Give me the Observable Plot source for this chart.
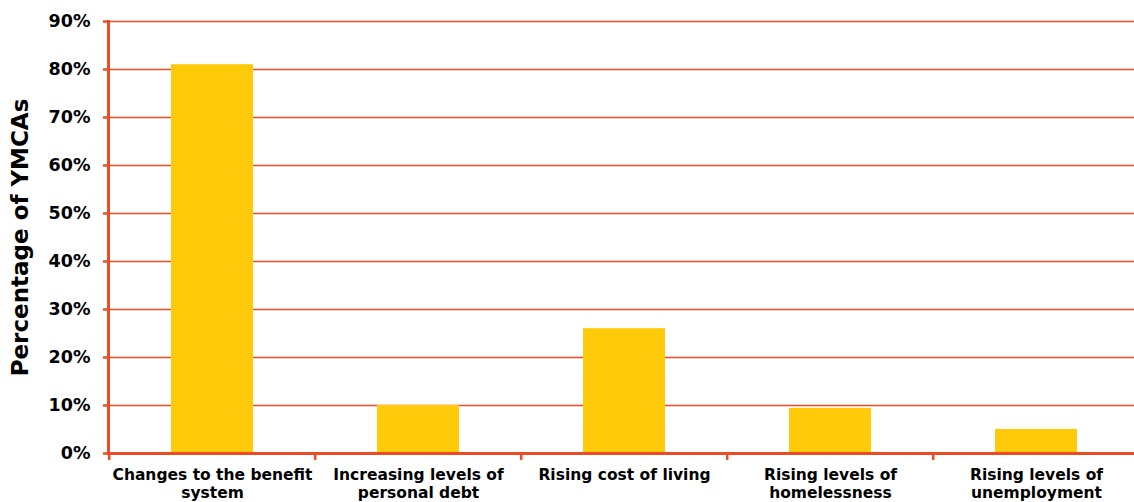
<!DOCTYPE html>
<html>
<head>
<meta charset="utf-8">
<script src="https://cdn.jsdelivr.net/npm/d3@7"></script>
<script src="https://cdn.jsdelivr.net/npm/@observablehq/plot@0.6"></script>
<style>
  html, body { margin: 0; padding: 0; background: #fff; overflow: hidden; }
  #chart svg { display: block; font-family: "DejaVu Sans", Verdana, sans-serif; }
</style>
</head>
<body>
<div id="chart"></div>
<script>
const categories = [
  "Changes to the benefit system",
  "Increasing levels of personal debt",
  "Rising cost of living",
  "Rising levels of homelessness",
  "Rising levels of unemployment"
];
const tickLabels = [
  "Changes to the benefit\nsystem",
  "Increasing levels of\npersonal debt",
  "Rising cost of living",
  "Rising levels of\nhomelessness",
  "Rising levels of\nunemployment"
];
const values = [81, 10, 26, 9.4, 5];
const yTicks = [0, 10, 20, 30, 40, 50, 60, 70, 80, 90];
const yTitle = "Percentage of YMCAs";

const data = categories.map((c, i) => ({category: c, value: values[i]}));
const labelOf = new Map(categories.map((c, i) => [c, tickLabels[i]]));

const red = "#ef4a26";
const yellow = "#ffca0a";
const W = 1134, H = 502;
const xRange = [108, 1141];
const halfStep = (xRange[1] - xRange[0]) / categories.length / 2;

const chart = Plot.plot({
  width: W,
  height: H,
  marginTop: 21,
  marginBottom: 49,
  marginLeft: 108,
  marginRight: 0,
  style: {fontFamily: "'DejaVu Sans', Verdana, sans-serif", color: "#000", background: "#fff"},
  x: {domain: categories, range: xRange, paddingInner: 0.6, paddingOuter: 0.3},
  y: {domain: [0, 90], ticks: yTicks},
  marks: [
    Plot.ruleY(yTicks.filter(d => d > 0), {stroke: red, strokeWidth: 1.6}),
    Plot.barY(data, {x: "category", y: "value", fill: yellow, insetLeft: 0, insetRight: 0}),
    Plot.ruleX(categories, {x: d => d, y1: 0, y2: -1.45, dx: -halfStep, stroke: red, strokeWidth: 2.5}),
    Plot.frame({anchor: "left", stroke: red, strokeWidth: 3}),
    Plot.ruleY([0], {stroke: red, strokeWidth: 3}),
    Plot.axisY({
      ticks: yTicks,
      tickFormat: d => d + "%",
      tickSize: 5,
      tickPadding: 13,
      stroke: red,
      strokeWidth: 2.5,
      fontSize: 17.5,
      fontWeight: "bold",
      fill: "#000",
      label: null
    }),
    Plot.axisX({
      tickSize: 0,
      tickPadding: 13,
      tickFormat: d => labelOf.get(d),
      fontSize: 15.5,
      fontWeight: "bold",
      fill: "#000",
      lineHeight: 1.2,
      label: null
    }),
    Plot.text([yTitle], {
      frameAnchor: "left",
      textAnchor: "middle",
      lineAnchor: "middle",
      dx: -88,
      rotate: -90,
      fontSize: 23,
      fontWeight: "bold",
      fill: "#000"
    })
  ]
});
document.getElementById("chart").appendChild(chart);
</script>
</body>
</html>
